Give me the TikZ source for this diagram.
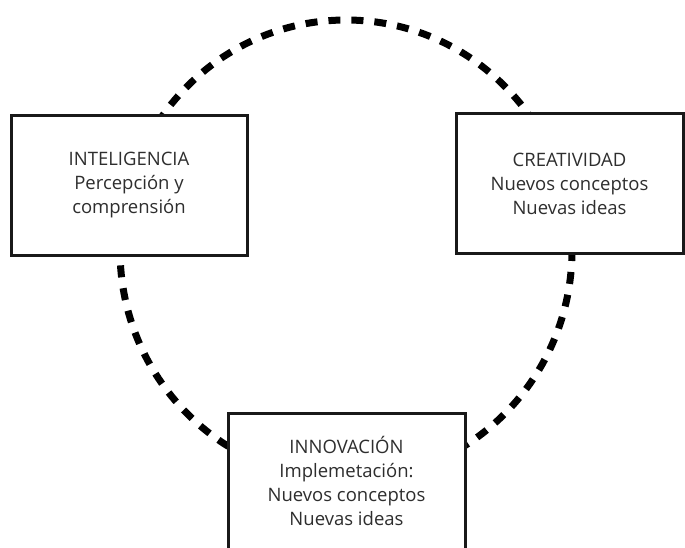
\documentclass[tikz,border=0pt]{standalone}
\usepackage{fontspec}
\setmainfont{Open Sans}
\begin{document}
\begin{tikzpicture}[x=1pt,y=-1pt,
  box/.style={draw=black!90, line width=3pt, fill=white, align=center,
    font=\fontsize{18.5}{24}\selectfont, text=black!82, inner sep=0pt},
  cyc/.style={line width=7pt, dash pattern=on 12pt off 11pt, dash phase=1pt}]
\useasboundingbox (0,0) rectangle (685,548);
\clip (0,0) rectangle (685,548);
\draw[cyc] (346,250) ellipse [x radius=226, y radius=230];
\node[box, minimum width=236, minimum height=139] (intel) at (129,185.5)
  {INTELIGENCIA\\Percepción y\\comprensión};
\node[box, minimum width=227, minimum height=139] (creat) at (569.5,183.5)
  {CREATIVIDAD\\Nuevos conceptos\\Nuevas ideas};
\node[box, minimum width=237, minimum height=136] (innov) at (346.5,481)
  {INNOVACIÓN\\Implemetación:\\Nuevos conceptos\\Nuevas ideas};
\end{tikzpicture}
\end{document}
